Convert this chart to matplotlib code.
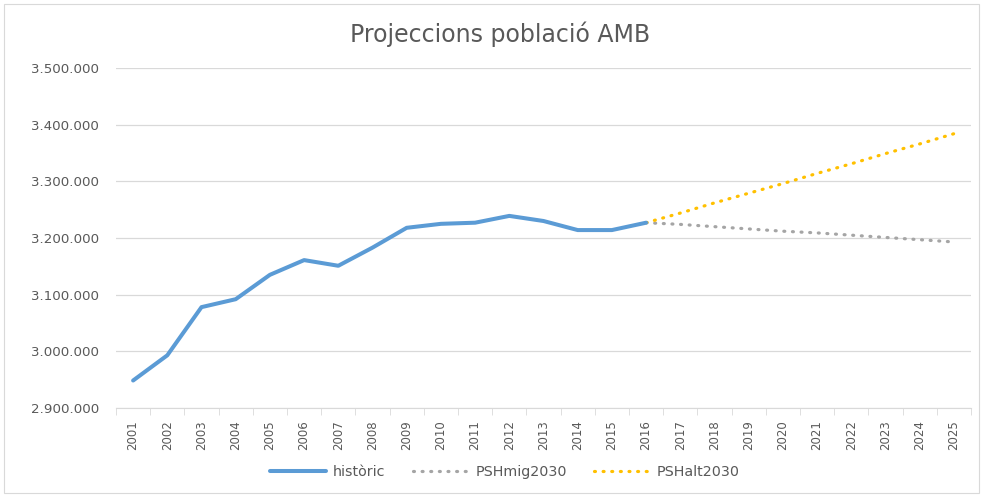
import matplotlib
matplotlib.use("Agg")
import matplotlib.pyplot as plt
from matplotlib.ticker import FuncFormatter
from matplotlib.patches import Rectangle

years = [str(y) for y in range(2001, 2026)]
historic = [2948500, 2993000, 3078000, 3092000, 3135000, 3161000, 3151000, 3183000,
            3218000, 3225000, 3227000, 3239000, 3230000, 3214000, 3214000, 3227000]
mig = [3227000, 3224000, 3220000, 3216000, 3212000, 3209000, 3205000, 3201000, 3197000, 3193000]
alt = [3227000, 3244000, 3262000, 3279000, 3296000, 3314000, 3331000, 3349000, 3366000, 3384000]
yticks = [2900000, 3000000, 3100000, 3200000, 3300000, 3400000, 3500000]

plt.rcParams['font.family'] = ['DejaVu Sans']
fig = plt.figure(figsize=(9.83, 4.97), dpi=100)
ax = fig.add_axes([116/983, 1-408/497, 855/983, (408-68)/497])

x_all = list(range(len(years)))
x_hist = x_all[:len(historic)]
x_proj = x_all[len(historic)-1:]

dot = (0, (0.3, 2.4))
ax.plot(x_proj, mig, color='#A5A5A5', lw=2.3, linestyle=dot,
        dash_capstyle='round', label='PSHmig2030', zorder=3)
ax.plot(x_proj, alt, color='#FFC000', lw=2.3, linestyle=dot,
        dash_capstyle='round', label='PSHalt2030', zorder=3)
ax.plot(x_hist, historic, color='#5B9BD5', lw=2.9, solid_capstyle='round',
        solid_joinstyle='round', label='històric', zorder=4)

ax.set_xlim(-0.5, len(years) - 0.5)
ax.set_ylim(yticks[0], yticks[-1])
ax.set_yticks(yticks)
ax.yaxis.set_major_formatter(FuncFormatter(lambda v, p: f"{int(v):,}".replace(",", ".")))
ax.set_xticks(x_all)
ax.set_xticklabels(years, rotation=90)
ax.set_xticks([i - 0.5 for i in range(len(years) + 1)], minor=True)
ax.tick_params(axis='x', which='major', length=0, pad=9, labelsize=8.5, colors='#595959')
ax.tick_params(axis='x', which='minor', length=5, color='#D9D9D9')
ax.tick_params(axis='y', length=0, pad=12, labelsize=9.6, colors='#595959')
ax.grid(axis='y', color='#D9D9D9', lw=0.9)
for s in ['top', 'right', 'left']:
    ax.spines[s].set_visible(False)
ax.spines['bottom'].set_color('#D9D9D9')
ax.set_axisbelow(True)

fig.text(500/983, 1-42/497, 'Projeccions població AMB', ha='center', va='baseline',
         fontsize=17, color='#595959')

h, l = ax.get_legend_handles_labels()
order = [2, 0, 1]
fig.legend([h[i] for i in order], [l[i] for i in order], loc='center',
           bbox_to_anchor=(505/983, 1-472/497), ncol=3, frameon=False,
           fontsize=10.3, labelcolor='#595959', handlelength=3.9, columnspacing=1.9,
           handletextpad=0.5)

fig.patches.append(Rectangle((4/983, 4/497), 1-8/983, 1-8/497, transform=fig.transFigure,
                             fill=False, edgecolor='#D9D9D9', lw=0.8))

fig.savefig('out.png', dpi=100, facecolor='white')
